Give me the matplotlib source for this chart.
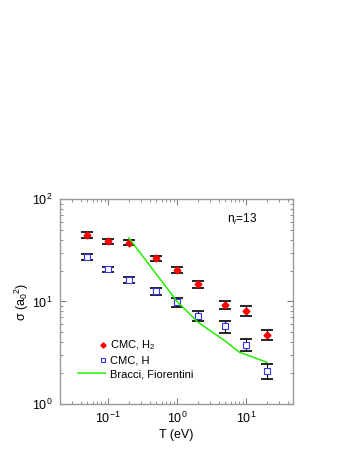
import numpy as np
import matplotlib
matplotlib.use('Agg')
import matplotlib.pyplot as plt
from matplotlib.legend_handler import HandlerLine2D

plt.rcParams['font.family'] = ['Liberation Sans', 'DejaVu Sans']
plt.rcParams['mathtext.fontset'] = 'custom'
plt.rcParams['mathtext.rm'] = 'Liberation Sans'
plt.rcParams['mathtext.it'] = 'Liberation Sans:italic'

# data
T = [0.05, 0.1, 0.2, 0.5, 1, 2, 5, 10, 20]
sigma_h2 = [44.6, 38.6, 37.5, 26.3, 20.3, 14.7, 9.3, 8.1, 4.7]
err_h2 = [2.8, 2.2, 2.1, 1.5, 1.4, 1.3, 0.9, 0.85, 0.52]
sigma_h = [27.2, 20.6, 16.1, 12.6, 9.8, 7.2, 5.7, 3.8, 2.1]
err_h = [1.8, 1.2, 1.1, 1.0, 0.9, 0.8, 0.75, 0.48, 0.36]
T_bf = [0.2, 1, 2, 5, 8, 20]
sigma_bf = [41.7, 10.0, 6.3, 4.1, 3.2, 2.55]


# legend marker sits at the right end of the handle box
class RightMarker(HandlerLine2D):
    def get_xdata(self, legend, xdescent, ydescent, width, height, fontsize):
        r = width - xdescent - 0.15 * fontsize
        return [r, r], [r]


fig = plt.figure(figsize=(3.54, 4.58), dpi=100)
ax = fig.add_axes([0.169, 0.118, 0.659, 0.4475])

ax.errorbar(T, sigma_h2, yerr=err_h2, fmt='none', ecolor='black',
            elinewidth=0.8, capsize=4.5, capthick=1.2)
ax.errorbar(T, sigma_h, yerr=err_h, fmt='none', ecolor='black',
            elinewidth=0.8, capsize=4.5, capthick=1.2)
ax.plot(T, sigma_h2, 'D', color='red', ms=3.5, mec='red', label='CMC, H$_2$')
ax.plot(T, sigma_h, 's', mfc='white', mec='#3333ff', mew=0.8, ms=4, label='CMC, H')
ax.plot(T_bf, sigma_bf, '-', color='#22ee00', lw=1.1, label='Bracci, Fiorentini')

ax.set_xscale('log')
ax.set_yscale('log')
ax.set_xlim(0.02, 48)
ax.set_ylim(1, 100)

for s in ax.spines.values():
    s.set_color('0.6')
    s.set_linewidth(1.0)
ax.tick_params(which='both', direction='in', top=True, right=True,
               color='0.5', labelsize=9, pad=5)
ax.tick_params(which='major', length=4, width=0.8)
ax.tick_params(which='minor', length=2, width=0.6)

ax.set_xlabel('T (eV)', fontsize=9, labelpad=2)
ax.set_ylabel('σ (a$_0$$^2$)', fontsize=9, labelpad=1)

ax.text(0.78, 0.90, 'n$_i$=13', transform=ax.transAxes, fontsize=8.5,
        ha='center', va='center')

h, l = ax.get_legend_handles_labels()
leg = ax.legend(h, l, loc='lower left', bbox_to_anchor=(0.06, 0.1), frameon=False,
                fontsize=8, handlelength=2.4, handletextpad=0.5,
                labelspacing=0.3, borderaxespad=0, markerscale=0.75,
                handler_map={h[0]: RightMarker(), h[1]: RightMarker()})

fig.savefig('out.png', dpi=100)
